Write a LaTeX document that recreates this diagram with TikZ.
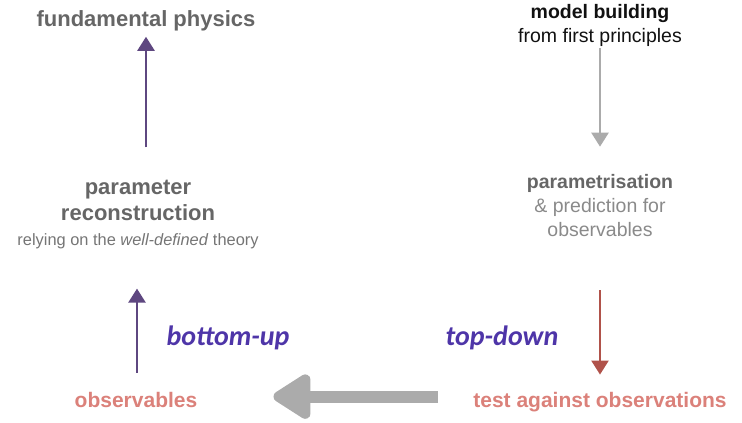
\documentclass[tikz,border=0pt]{standalone}
\usepackage{fontspec}
\setmainfont{Liberation Sans}
\newfontfamily\handfont{Carlito}
\usepackage{tikz}
\usetikzlibrary{arrows.meta}
\definecolor{Slate}{HTML}{666666}
\definecolor{Mist}{HTML}{8A8A8A}
\definecolor{Ash}{HTML}{ABABAB}
\definecolor{Plum}{HTML}{5E4780}
\definecolor{Brick}{HTML}{B0524A}
\definecolor{Salmon}{HTML}{DB817A}
\definecolor{Indigo}{HTML}{4E35A8}
\definecolor{Ink}{HTML}{111111}

\begin{document}
\begin{tikzpicture}[
  x=1pt, y=-1pt,
  txt/.style={anchor=base, inner sep=0pt},
  title/.style={txt, font=\bfseries\fontsize{22}{26}\selectfont, text=Slate},
  rtitle/.style={txt, font=\bfseries\fontsize{19.5}{24}\selectfont},
  note/.style={txt, font=\fontsize{19.5}{24}\selectfont},
  small/.style={txt, font=\fontsize{16.4}{20}\selectfont, text=Slate!90},
  obsv/.style={txt, font=\bfseries\fontsize{21}{25}\selectfont, text=Salmon},
  way/.style={txt, font=\handfont\bfseries\itshape\fontsize{28}{32}\selectfont, text=Indigo},
  thin/.style={-{Triangle[length=14pt,width=17pt]}, line width=2.4pt},
  brush/.style={-{Triangle[length=42pt,width=50pt,round]}, line width=12pt, draw=Ash}
]
\useasboundingbox (0,0) rectangle (742,423);

% left column: bottom-up
\node[title] (fundphys) at (146,26) {fundamental physics};
\node[title] (paramrec) at (138,194) {parameter};
\node[title] (recon) at (138,220) {reconstruction};
\node[small] (relying) at (138,245) {relying on the \textit{well-defined} theory};
\node[obsv] (obs) at (136,407) {observables};

% right column: top-down
\node[rtitle, text=Ink] (modelbuild) at (600,19) {model building};
\node[note, text=Ink] (firstprinc) at (600,42) {from first principles};
\node[rtitle, text=Slate] (paramtris) at (600,188) {parametrisation};
\node[note, text=Mist] (predict) at (600,212) {\& prediction for};
\node[note, text=Mist] (predobs) at (600,236) {observables};
\node[obsv] (testobs) at (600,407) {test against observations};

\node[way] (bottomup) at (228,345) {bottom-up};
\node[way] (topdown) at (502,345) {top-down};

\draw[thin, draw=Plum, shorten <=32pt, shorten >=6pt]
  (fundphys.south |- paramrec.north) -- (fundphys.south);
\draw[thin, draw=Plum, shorten <=19pt, shorten >=40pt]
  ([xshift=1pt]obs.north) -- ([xshift=1pt]obs.north |- relying.south);
\draw[thin, draw=Ash, shorten <=2pt, shorten >=27pt]
  (firstprinc.south) -- (paramtris.north);
\draw[thin, draw=Brick, shorten <=54pt, shorten >=17pt]
  (predobs.south) -- (testobs.north);
\draw[brush, shorten <=35pt, shorten >=76pt]
  ([yshift=5pt]testobs.west) -- ([yshift=5pt]testobs.west -| obs.east);
\end{tikzpicture}
\end{document}
